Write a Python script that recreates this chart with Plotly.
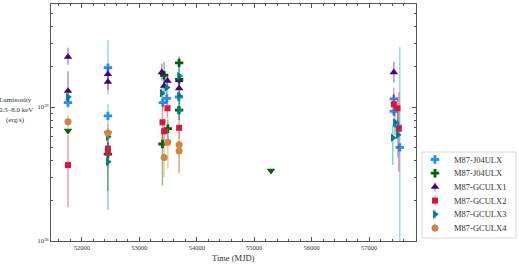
import plotly.graph_objects as go

# ---- data (luminosity in units of 1e39 erg/s) ----
j04a_mjd = [51757, 52452, 52452, 53409, 53478, 53690, 57431, 57431, 57500, 57535]
j04a_lum = [1.08, 1.97, 0.86, 1.08, 1.16, 1.19, 1.15, 0.93, 0.72, 0.50]
j04a_up = [0.12, 1.19, 0.20, 0.15, 0.15, 0.12, 0.12, 0.10, 0.10, 2.30]
j04a_dn = [0.10, 0.72, 0.15, 0.12, 0.12, 0.10, 0.10, 0.08, 0.08, 0.45]

j04b_mjd = [52452, 53431, 53402, 53496, 53692, 53692, 53692]
j04b_lum = [0.446, 1.73, 0.53, 0.69, 2.14, 1.61, 0.95]
j04b_up = [0.10, 0.45, 0.15, 0.12, 0.25, 0.20, 0.15]
j04b_dn = [0.21, 0.35, 0.27, 0.12, 0.30, 0.20, 0.15]

j04b_lim_mjd = [51757, 52452, 55292]
j04b_lim_lum = [0.666, 0.636, 0.335]

gc1_mjd = [51757, 51757, 52452, 52452, 53391, 53431, 53489, 53692, 53692, 57431]
gc1_lum = [2.37, 1.32, 1.76, 1.54, 1.82, 1.44, 1.57, 1.59, 1.38, 1.82]
gc1_up = [0.40, 0.53, 0.20, 0.20, 0.30, 0.20, 0.20, 0.20, 0.20, 0.35]
gc1_dn = [0.30, 0.22, 0.20, 0.20, 0.25, 0.20, 0.20, 0.20, 0.20, 0.30]

gc2_mjd = [51757, 52452, 52452, 53402, 53431, 53489, 53692, 57431, 57495, 57518]
gc2_lum = [0.369, 0.49, 0.46, 0.77, 0.66, 0.98, 0.70, 1.05, 0.98, 0.69]
gc2_up = [0.25, 0.10, 0.10, 0.30, 0.15, 0.15, 0.15, 0.35, 0.20, 0.60]
gc2_dn = [0.19, 0.10, 0.10, 0.20, 0.15, 0.15, 0.12, 0.20, 0.20, 0.36]

gc3_mjd = [51757, 52452, 52452, 53391, 53478, 53692, 53692, 53692, 57450, 57413, 57500]
gc3_lum = [1.19, 0.60, 0.39, 1.27, 1.40, 1.71, 1.21, 0.95, 0.77, 0.59, 0.62]
gc3_up = [0.10, 0.10, 0.15, 0.15, 0.15, 0.30, 0.15, 0.15, 0.15, 0.15, 0.30]
gc3_dn = [0.10, 0.10, 0.22, 0.15, 0.15, 0.20, 0.15, 0.15, 0.15, 0.22, 0.20]

gc4_mjd = [51757, 52452, 53431, 53496, 53692, 53692]
gc4_lum = [0.777, 0.64, 0.42, 0.546, 0.524, 0.47]
gc4_up = [0.10, 0.10, 0.12, 0.15, 0.15, 0.10]
gc4_dn = [0.10, 0.10, 0.12, 0.20, 0.20, 0.15]

series_names = ["M87-J04ULX", "M87-J04ULX", "M87-GCULX1", "M87-GCULX2", "M87-GCULX3", "M87-GCULX4"]

x_ticks = [52000, 53000, 54000, 55000, 56000, 57000]
x_tick_labels = ["52000", "53000", "54000", "55000", "56000", "57000"]
y_ticks = [1e38, 1e39]
y_tick_labels = ["10<sup>38</sup>", "10<sup>39</sup>"]
y_label_lines = ["Luminosity", "0.5–8.0 keV", "(erg/s)"]
x_label = "Time (MJD)"

SCALE = 1e39
FONT = "Liberation Serif"
TXT = "#333333"
W, H = 519, 267
# plot area in pixels
PL, PR, PT, PB = 51, 416, 4, 241

def rgba(hexc, a):
    h = hexc.lstrip("#")
    r, g, b = int(h[0:2], 16), int(h[2:4], 16), int(h[4:6], 16)
    return f"rgba({r},{g},{b},{a})"

styles = [
    ("#1E90FF", "cross", 7),
    ("#006400", "cross", 7),
    ("#4B0082", "triangle-up", 7.5),
    ("#DC143C", "square", 6),
    ("#008080", "triangle-right", 7.5),
    ("#CD853F", "circle", 7),
]
data = [
    (j04a_mjd, j04a_lum, j04a_up, j04a_dn),
    (j04b_mjd, j04b_lum, j04b_up, j04b_dn),
    (gc1_mjd, gc1_lum, gc1_up, gc1_dn),
    (gc2_mjd, gc2_lum, gc2_up, gc2_dn),
    (gc3_mjd, gc3_lum, gc3_up, gc3_dn),
    (gc4_mjd, gc4_lum, gc4_up, gc4_dn),
]

fig = go.Figure()

for i, ((mjd, lum, up, dn), (color, symbol, size), name) in enumerate(zip(data, styles, series_names)):
    fig.add_trace(go.Scatter(
        x=mjd, y=[v * SCALE for v in lum], mode="markers", name=name, showlegend=False,
        marker=dict(color=color, symbol=symbol, size=size, line=dict(width=0)),
        error_y=dict(type="data", symmetric=False,
                     array=[v * SCALE for v in up],
                     arrayminus=[v * SCALE for v in dn],
                     color=rgba(color, 0.45), thickness=1.4, width=0),
    ))
    if i == 1:
        fig.add_trace(go.Scatter(
            x=j04b_lim_mjd, y=[v * SCALE for v in j04b_lim_lum], mode="markers",
            showlegend=False, marker=dict(color=color, symbol="triangle-down", size=7.5)))

annotations = []

# ---- manual legend on a pixel-coordinate overlay axis ----
LEG_X0, LEG_X1, LEG_Y0, LEG_Y1 = 422, 516, 152, 238
row_y = [159.5, 173.2, 186.9, 200.6, 214.3, 228.0]
sym_x = 435
txt_x = 452
for (color, symbol, size), name, ry in zip(styles, series_names, row_y):
    fig.add_trace(go.Scatter(
        x=[sym_x], y=[ry], xaxis="x2", yaxis="y2", mode="markers", showlegend=False,
        marker=dict(color=color, symbol=symbol, size=size, line=dict(width=0)),
        error_y=dict(type="constant", value=4.5, color=rgba(color, 0.45), thickness=1.4, width=0),
        hoverinfo="skip"))
    annotations.append(dict(x=txt_x, y=ry, xref="x2", yref="y2", text=name, showarrow=False,
                            xanchor="left", yanchor="middle",
                            font=dict(size=8.5, family=FONT, color=TXT)))

fig.add_shape(type="rect", xref="x2", yref="y2", x0=LEG_X0, x1=LEG_X1, y0=LEG_Y0, y1=LEG_Y1,
              line=dict(color="#d9d9d9", width=1), fillcolor="rgba(255,255,255,0)", layer="below")

# axis labels
for line, ly in zip(y_label_lines, [100, 110, 120]):
    annotations.append(dict(text=line, x=15.5, y=ly, xref="x2", yref="y2", showarrow=False,
                            xanchor="center", yanchor="middle",
                            font=dict(size=7, family=FONT, color=TXT)))
annotations.append(dict(text=x_label, x=(PL + PR) / 2, y=258, xref="x2", yref="y2",
                        showarrow=False, xanchor="center", yanchor="middle",
                        font=dict(size=8.5, family=FONT, color=TXT)))

axis_col = "#555555"
y_minor = [m * 1e38 for m in range(2, 10)] + [m * 1e39 for m in range(2, 7)]
x_minor = list(range(51600, 57801, 200))

fig.update_layout(
    width=W, height=H,
    margin=dict(l=0, r=0, t=0, b=0),
    paper_bgcolor="white", plot_bgcolor="rgba(0,0,0,0)",
    font=dict(family=FONT, size=9, color=TXT),
    showlegend=False,
    xaxis=dict(domain=[PL / W, PR / W], range=[51461, 57817], tickmode="array", tickvals=x_ticks,
               ticktext=x_tick_labels, ticks="inside", ticklen=4, tickwidth=1,
               tickcolor=axis_col, showline=True, linecolor=axis_col, linewidth=1.2,
               mirror="ticks", showgrid=False, zeroline=False, automargin=False,
               tickfont=dict(size=6.5, family=FONT, color=TXT),
               minor=dict(tickvals=x_minor, ticks="inside", ticklen=2, tickcolor=axis_col)),
    yaxis=dict(domain=[1 - PB / H, 1 - PT / H], type="log", range=[38, 39.77], tickmode="array",
               tickvals=y_ticks, ticktext=y_tick_labels, ticks="inside", ticklen=4, tickwidth=1,
               tickcolor=axis_col, showline=True, linecolor=axis_col, linewidth=1.2,
               mirror="ticks", showgrid=False, zeroline=False, automargin=False,
               tickfont=dict(size=6.5, family=FONT, color=TXT),
               minor=dict(tickvals=y_minor, ticks="inside", ticklen=2, tickcolor=axis_col)),
    xaxis2=dict(domain=[0, 1], range=[0, W], visible=False, anchor="y2", fixedrange=True),
    yaxis2=dict(domain=[0, 1], range=[H, 0], visible=False, anchor="x2", fixedrange=True),
    annotations=annotations,
)

fig.write_html("out.html", config={"displayModeBar": False, "staticPlot": True},
               post_script="document.body.style.margin='0';document.body.style.overflow='hidden';")
